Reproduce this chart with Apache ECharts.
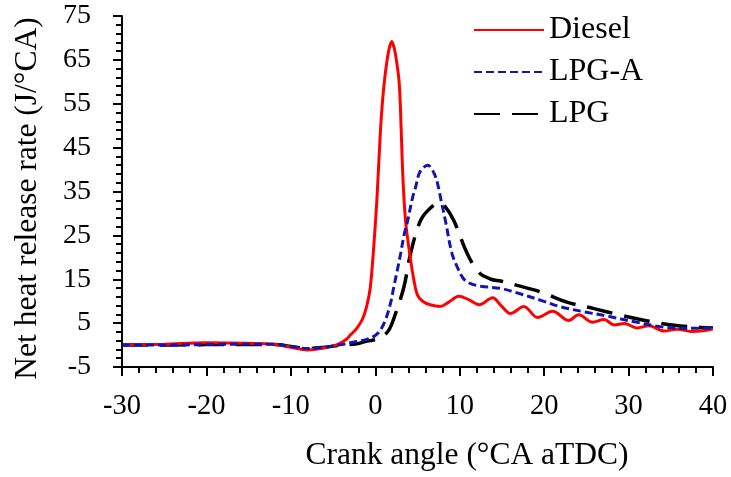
<!DOCTYPE html>
<html>
<head>
<meta charset="utf-8">
<script src="https://cdn.jsdelivr.net/npm/echarts@6/dist/echarts.min.js"></script>
<style>html,body{margin:0;padding:0;background:#fff}#c{width:731px;height:477px}</style>
</head>
<body>
<div id="c"></div>
<script>
// Tick ranges
var xTicks = { min: -30, max: 40, step: 10 };
var yTicks = { min: -5, max: 75, step: 10 };

// Diesel
var dieselX = [-30,-25,-20,-15,-12,-10,-8,-6,-4.5,-3.5,-2.9,-2.2,-1.5,-1,-0.6,-0.2,0.2,0.6,0.85,1.1,1.35,1.65,1.95,2.25,2.55,2.8,2.95,3.05,3.3,3.6,4.1,4.6,5.0,5.6,6.5,7.7,8.7,9.9,11,12.3,13.9,14.9,16,17.6,19.2,21,22.9,24.1,25.7,27.1,28.3,29.5,31,32.4,34.2,35.8,37.4,39,40];
var dieselY = [0,0.2,0.5,0.4,0.2,-0.5,-1.1,-0.6,0.1,1.2,2.4,3.8,6,9,13,22,33.5,48.5,55.5,60.5,64.3,67.6,69.2,67.6,64.3,60.5,55.5,50,37,28,20.5,14.5,11.4,10,9.2,8.8,9.8,11.1,10.4,9.2,10.8,9.0,7.2,8.8,6.3,7.7,5.6,6.9,5.2,5.8,4.6,4.9,3.9,4.4,3.2,3.6,3.1,3.3,3.7];

// LPG-A
var lpgaX = [-30,-25,-20,-15,-12,-10,-8,-6,-4,-2.5,-1,0,0.6,1.2,1.8,2.2,2.6,3.0,3.4,3.84,4.4,4.75,5.3,6.2,7.0,7.5,7.75,8.3,9.1,9.9,10.5,11.3,12.5,14.85,16.8,19.6,22,24.7,27.5,30.7,33.8,37,40];
var lpgaY = [0,0,0.1,0.2,0.2,-0.3,-0.8,-0.5,0.1,0.7,1.3,2.2,3.4,5.7,9.5,13.3,17,20.8,25,28.4,33.5,35.8,39.5,41,39,35.8,33.4,28.4,20.8,17,15,14,13.4,12.9,11.9,10.2,8.7,7.6,6.6,5.3,4.2,3.8,3.9];

// LPG
var lpgX = [-30,-25,-20,-15,-12,-10,-8,-6,-4,-2.2,-1,0,0.6,1.6,2.4,3.4,4.17,5.36,6.5,7.6,8.3,9.3,10.9,12.3,13.7,14.85,16.8,19.6,22.7,25.9,29.1,32.25,35.4,38.6,40];
var lpgY = [0,0,0.1,0.1,0.1,-0.3,-0.8,-0.5,0,0.3,0.9,1.2,1.5,3.4,7.2,13.3,20.8,28.4,31.2,32.4,31.5,28.4,20.8,16.5,15.0,14.6,13.6,12.1,9.8,8.3,6.8,5.5,4.5,4.0,3.9];

function pairs(xs, ys){ return xs.map(function(x,i){ return [x, ys[i]]; }); }

var FONT = "'Liberation Serif','Times New Roman',serif";
var chart = echarts.init(document.getElementById('c'), null, {renderer:'canvas'});
chart.setOption({
  animation: false,
  backgroundColor: '#fff',
  grid: { left: 122, right: 18, top: 16, bottom: 106, containLabel: false },
  legend: {
    orient: 'vertical', left: 468, top: 9, itemWidth: 70, itemHeight: 14, itemGap: 10,
    itemStyle: { color: 'rgba(0,0,0,0)', borderWidth: 0, opacity: 0 },
    textStyle: { fontFamily: FONT, fontSize: 32, color: '#000' },
    data: ['Diesel','LPG-A','LPG']
  },
  xAxis: {
    type: 'value', min: xTicks.min, max: xTicks.max, interval: xTicks.step,
    name: 'Crank angle (°CA aTDC)', nameLocation: 'middle', nameGap: 73,
    nameTextStyle: { fontFamily: FONT, fontSize: 31.5, color: '#000', padding: [0,0,0,99] },
    axisLine: { onZero: false, lineStyle: { color: '#000', width: 2 } },
    axisTick: { show: true, inside: false, length: 9, lineStyle: { color: '#000', width: 2 } },
    minorTick: { show: true, splitNumber: 5, length: 6, lineStyle: { color: '#000', width: 2 } },
    axisLabel: { fontFamily: FONT, fontSize: 28.5, color: '#000', margin: 25 },
    splitLine: { show: false }
  },
  yAxis: {
    type: 'value', min: yTicks.min, max: yTicks.max, interval: yTicks.step,
    name: 'Net heat release rate (J/°CA)', nameLocation: 'middle', nameGap: 78,
    nameTextStyle: { fontFamily: FONT, fontSize: 31.5, color: '#000', padding: [0,14,0,0] },
    axisLine: { onZero: false, lineStyle: { color: '#000', width: 2 } },
    axisTick: { show: true, inside: false, length: 9, lineStyle: { color: '#000', width: 2 } },
    minorTick: { show: true, splitNumber: 5, length: 6, lineStyle: { color: '#000', width: 2 } },
    axisLabel: { fontFamily: FONT, fontSize: 28, color: '#000', margin: 31 },
    splitLine: { show: false }
  },
  series: [
    { name: 'Diesel', type: 'line', data: pairs(dieselX, dieselY), smooth: 0.35, symbol: 'none',
      lineStyle: { color: '#ff0000', width: 3, type: 'solid' }, itemStyle: { color: '#ff0000' }, z: 3 },
    { name: 'LPG-A', type: 'line', data: pairs(lpgaX, lpgaY), smooth: 0.35, symbol: 'none',
      lineStyle: { color: '#1414b4', width: 3, type: [8, 4] }, itemStyle: { color: '#1414b4' }, z: 4 },
    { name: 'LPG', type: 'line', data: pairs(lpgX, lpgY), smooth: 0.35, symbol: 'none',
      lineStyle: { color: '#000', width: 3.5, type: [26, 12] }, itemStyle: { color: '#000' }, z: 2 }
  ]
});
</script>
</body>
</html>
